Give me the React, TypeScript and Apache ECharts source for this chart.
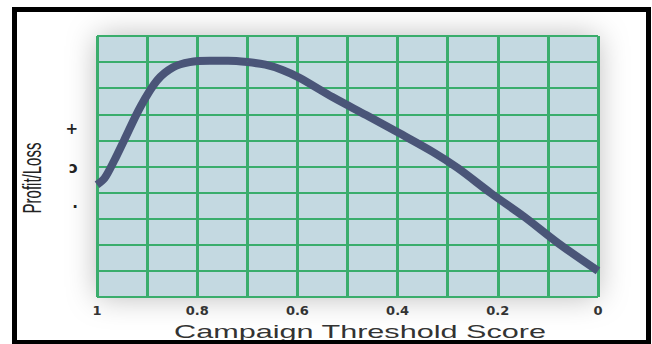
import React, { useEffect, useRef } from "react";
import * as echarts from "echarts";

// Campaign threshold score (x) vs profit/loss (relative units)
const thresholds = [1.0, 0.985, 0.965, 0.946, 0.913, 0.88, 0.848, 0.815, 0.775, 0.738, 0.7, 0.664, 0.63, 0.596, 0.53, 0.463, 0.397, 0.33, 0.28, 0.214, 0.147, 0.08, 0.0];
const profitLoss = [4.3, 4.55, 5.25, 6.0, 7.3, 8.3, 8.8, 9.0, 9.05, 9.05, 9.0, 8.9, 8.7, 8.4, 7.66, 6.97, 6.28, 5.56, 4.94, 3.98, 3.07, 2.07, 1.0];
const xTickLabels = ["0", "0.2", "0.4", "0.6", "0.8", "1"];
const yMarkValues = [-1, 0, 1];
const yMarkLabels = ["·", "ɔ", "+"];
const xTitle = "Campaign Threshold Score";
const yTitle = "Profit/Loss";

export default function App() {
  const ref = useRef<HTMLDivElement>(null);
  useEffect(() => {
    const chart = echarts.init(ref.current!, null, { renderer: "svg" });
    const green = "#3aad6c";
    chart.setOption({
      animation: false,
      backgroundColor: "#ffffff",
      grid: {
        left: 97,
        right: 54,
        top: 36,
        bottom: 47,
        show: true,
        backgroundColor: "#c4d9e1",
        borderWidth: 0,
        shadowBlur: 30,
        shadowColor: "rgba(0,0,0,0.28)",
      },
      xAxis: {
        type: "value",
        min: 0,
        max: 1,
        interval: 0.1,
        inverse: true,
        axisLine: { show: false },
        axisTick: { show: false },
        splitLine: { show: true, lineStyle: { color: green, width: 3, opacity: 1 } },
        axisLabel: {
          margin: 7,
          fontFamily: "DejaVu Sans",
          fontWeight: "bold",
          fontSize: 13,
          color: "#333",
          formatter: (v: number) => {
            const k = Math.round(v * 10);
            return k % 2 === 0 ? xTickLabels[k / 2] : "";
          },
        },
      },
      yAxis: [
        {
          type: "value",
          min: 0,
          max: 10,
          interval: 1,
          axisLine: { show: false },
          axisTick: { show: false },
          axisLabel: { show: false },
          splitLine: { show: true, lineStyle: { color: green, width: 2, opacity: 1 } },
        },
        {
          type: "value",
          position: "left",
          min: -3.3,
          max: 3.4,
          interval: 0.1,
          axisLine: { show: false },
          axisTick: { show: false },
          splitLine: { show: false },
          axisLabel: {
            margin: 19,
            fontFamily: "DejaVu Sans",
            fontWeight: "bold",
            fontSize: 15,
            color: "#222",
            formatter: (v: number) => {
              const k = Math.round(v * 10);
              const idx = yMarkValues.findIndex((m) => m * 10 === k);
              return idx >= 0 ? yMarkLabels[idx] : "";
            },
          },
        },
      ],
      series: [
        {
          type: "line",
          data: thresholds.map((t, i) => [t, profitLoss[i]]),
          smooth: 0.3,
          symbol: "none",
          clip: false,
          lineStyle: { color: "#4a5578", width: 8, cap: "butt" },
          z: 5,
        },
      ],
      graphic: [
        {
          type: "text",
          x: 360,
          y: 332,
          scaleX: 1.7,
          z: 10,
          style: {
            text: xTitle,
            font: "18px Arial",
            fill: "#333",
            textAlign: "center",
            textVerticalAlign: "middle",
          },
        },
        {
          type: "text",
          x: 32,
          y: 178,
          rotation: Math.PI / 2,
          scaleY: 1.7,
          z: 10,
          style: {
            text: yTitle,
            font: "15px Arial",
            fill: "#222",
            textAlign: "center",
            textVerticalAlign: "middle",
          },
        },
        {
          type: "rect",
          z: 20,
          shape: { x: 14.5, y: 9.5, width: 634, height: 333 },
          style: { fill: "none", stroke: "#000", lineWidth: 5 },
        },
      ],
    });
    return () => chart.dispose();
  }, []);
  return (
    <div
      ref={ref}
      style={{ position: "absolute", left: 0, top: 0, width: 652, height: 344 }}
    />
  );
}
